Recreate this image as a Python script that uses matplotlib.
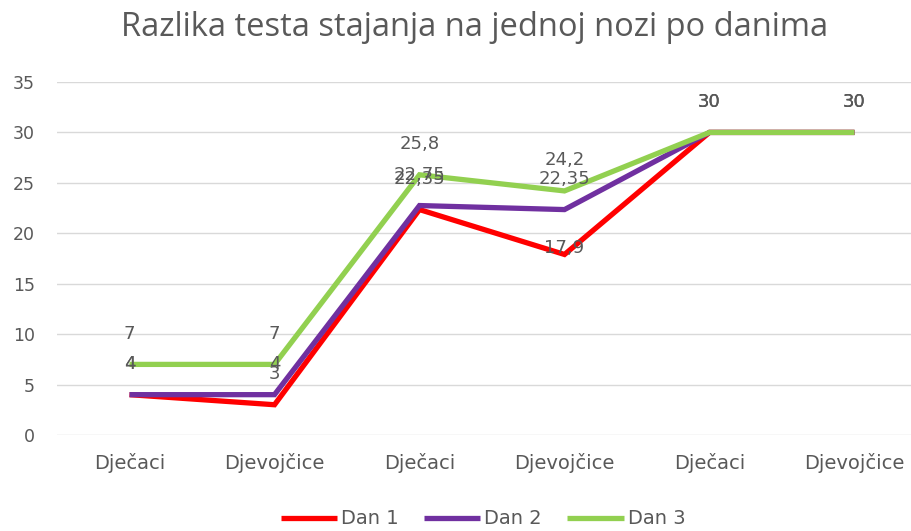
import numpy as np
import matplotlib.pyplot as plt

categories = ['Dječaci', 'Djevojčice', 'Dječaci', 'Djevojčice', 'Dječaci', 'Djevojčice']
dan1 = [4, 3, 22.35, 17.9, 30, 30]
dan2 = [4, 4, 22.75, 22.35, 30, 30]
dan3 = [7, 7, 25.8, 24.2, 30, 30]
series = [('Dan 1', dan1, '#FF0000'), ('Dan 2', dan2, '#7030A0'), ('Dan 3', dan3, '#92D050')]

gray = '#595959'
fig = plt.figure(figsize=(9.12, 5.31), dpi=100)
ax = fig.add_axes([57 / 912, 1 - 435 / 531, 870 / 912, 353 / 531])

x = np.arange(len(categories))
for name, vals, col in series:
    ax.plot(x, vals, color=col, lw=3.8, label=name, solid_joinstyle='miter', solid_capstyle='butt')

# data labels above points (Excel style); one label was moved in the original
for name, vals, col in series:
    for i, v in enumerate(vals):
        dy = 22
        if name == 'Dan 1' and i == 3:
            dy = 5
        ax.annotate(f'{v:g}'.replace('.', ','), (x[i], v), xytext=(0, dy),
                    textcoords='offset points', ha='center', va='center',
                    fontsize=13, color=gray, family='DejaVu Sans')

ax.set_xlim(-0.5, len(categories) - 0.5)
ax.set_ylim(0, 35)
ax.set_yticks(range(0, 36, 5))
ax.set_xticks(x)
ax.set_xticklabels(categories)
ax.grid(axis='y', color='#D9D9D9', lw=1)
ax.set_axisbelow(True)
for s in ax.spines.values():
    s.set_visible(False)
ax.tick_params(length=0, colors=gray, labelsize=12.5)
ax.tick_params(axis='x', labelsize=14)
ax.tick_params(axis='y', pad=16)
ax.tick_params(axis='x', pad=13)

fig.text(475 / 912, 1 - 28 / 531, 'Razlika testa stajanja na jednoj nozi po danima',
         ha='center', va='center', fontsize=23.5, color=gray, family='Open Sans')
fig.legend(loc='center', bbox_to_anchor=(483 / 912, 1 - 519 / 531), ncol=3, frameon=False,
           prop={'family': 'DejaVu Sans', 'size': 14}, labelcolor=gray, handlelength=2.9,
           columnspacing=1.3, handletextpad=0.2)

fig.savefig('out.png', dpi=100)
